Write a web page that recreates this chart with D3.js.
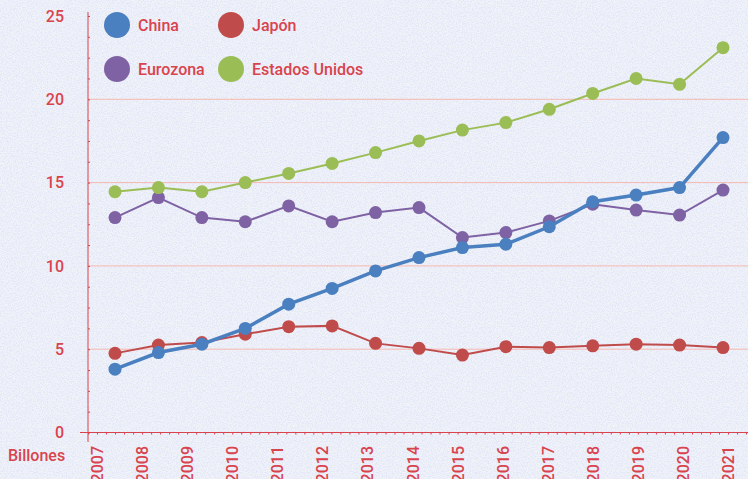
<!DOCTYPE html>
<html>
<head>
<meta charset="utf-8">
<script src="https://cdn.jsdelivr.net/npm/d3@7"></script>
<style>
  body { margin: 0; background: #e9ecf5; }
  svg { display: block; font-family: Roboto, "DejaVu Sans", sans-serif; }
</style>
</head>
<body>
<div id="chart"></div>
<script>
"use strict";

// data (billones)
const years = [2007, 2008, 2009, 2010, 2011, 2012, 2013, 2014, 2015, 2016, 2017, 2018, 2019, 2020, 2021];
const china = [3.8, 4.8, 5.3, 6.25, 7.7, 8.65, 9.7, 10.5, 11.1, 11.3, 12.35, 13.85, 14.25, 14.7, 17.7];
const japon = [4.75, 5.25, 5.4, 5.9, 6.35, 6.4, 5.35, 5.05, 4.65, 5.15, 5.1, 5.2, 5.3, 5.25, 5.1];
const eurozona = [12.9, 14.1, 12.9, 12.65, 13.6, 12.65, 13.2, 13.5, 11.7, 12.0, 12.7, 13.7, 13.35, 13.05, 14.55];
const eeuu = [14.45, 14.7, 14.45, 15.0, 15.55, 16.15, 16.8, 17.5, 18.15, 18.6, 19.4, 20.35, 21.25, 20.9, 23.1];
const yTicks = [0, 5, 10, 15, 20, 25];

const msm = {
    width: 748,
    height: 479,
    axisX: 88,
    axisY: 432.5,
    top: 16,
    right: 748
}
const red = "#d9434d";

const series = [
    { name: "China", values: china, color: "#4a7fc0", width: 3.5 },
    { name: "Japón", values: japon, color: "#c04b4b", width: 2 },
    { name: "Eurozona", values: eurozona, color: "#7f62a3", width: 2 },
    { name: "Estados Unidos", values: eeuu, color: "#9bbd55", width: 2 }
];

let svg = d3.select("#chart").append("svg")
    .attr("width", msm.width)
    .attr("height", msm.height);

// speckled paper background
let defs = svg.append("defs");
let noise = defs.append("filter").attr("id", "noise")
    .attr("x", 0).attr("y", 0).attr("width", "100%").attr("height", "100%");
noise.append("feTurbulence")
    .attr("type", "fractalNoise")
    .attr("baseFrequency", 0.8)
    .attr("numOctaves", 3)
    .attr("seed", 7);
noise.append("feColorMatrix")
    .attr("values", "0 0 0 0 0.76  0 0 0 0 0.80  0 0 0 0 0.93  3.2 0 0 0 -1.25");

svg.append("rect").attr("width", msm.width).attr("height", msm.height).attr("fill", "#f1f3f9");
svg.append("rect").attr("width", msm.width).attr("height", msm.height)
    .attr("filter", "url(#noise)");

// scales
let y = d3.scaleLinear().domain([0, 25]).range([msm.axisY, msm.top]);
let xPts = d3.scalePoint().domain(years).range([115, 723]);
let xAxisScale = d3.scaleLinear().domain([2007, 2021]).range([msm.axisX, 719]);

// grid lines
svg.append("g").selectAll("line")
    .data(yTicks.filter(d => d > 0 && d < 25))
    .enter().append("line")
    .attr("x1", msm.axisX).attr("x2", msm.right)
    .attr("y1", d => y(d)).attr("y2", d => y(d))
    .attr("stroke", "#f5b8b0").attr("stroke-width", 1);

// y axis: minor ticks + line
let yMinor = d3.axisRight(y).tickValues(d3.range(0, 25.01, 1.25)).tickSize(2).tickFormat("");
let gy = svg.append("g").attr("transform", "translate(" + msm.axisX + ",0)").call(yMinor);
gy.select(".domain").remove();
gy.selectAll("line").attr("stroke", red);
svg.append("line")
    .attr("x1", msm.axisX).attr("x2", msm.axisX)
    .attr("y1", 12).attr("y2", 442)
    .attr("stroke", red).attr("stroke-width", 1);

let yLabels = d3.axisLeft(y).tickValues(yTicks).tickSize(0).tickPadding(24);
let gyl = svg.append("g").attr("transform", "translate(" + msm.axisX + ",0)").call(yLabels);
gyl.select(".domain").remove();
gyl.selectAll("text")
    .attr("fill", red)
    .style("font-size", "16px")
    .style("font-weight", 500)
    .style("font-family", "Roboto, sans-serif");

svg.append("text")
    .attr("x", 8).attr("y", 461)
    .attr("fill", red)
    .style("font-size", "16px")
    .style("font-weight", 500)
    .text("Billones");

// x axis: minor ticks + line + rotated year labels
let xMinor = d3.axisBottom(xAxisScale).tickValues(d3.range(2007, 2022.6, 0.2)).tickSize(2).tickFormat("");
let gx = svg.append("g").attr("transform", "translate(0," + msm.axisY + ")").call(xMinor);
gx.select(".domain").remove();
gx.selectAll("line").attr("stroke", red);
svg.append("line")
    .attr("x1", 80).attr("x2", msm.right)
    .attr("y1", msm.axisY).attr("y2", msm.axisY)
    .attr("stroke", red).attr("stroke-width", 1);

svg.append("g").selectAll("text")
    .data(years)
    .enter().append("text")
    .attr("transform", d => "translate(" + (xAxisScale(d) + 15) + ",446) rotate(-90)")
    .attr("text-anchor", "end")
    .attr("fill", red)
    .style("font-size", "16px")
    .style("font-weight", 500)
    .text(d => d);

// lines and points
let line = d3.line()
    .x((d, i) => xPts(years[i]))
    .y(d => y(d));

// draw order: eurozona, eeuu, japon, china on top
let order = [series[2], series[3], series[1], series[0]];
order.forEach(s => {
    svg.append("path")
        .datum(s.values)
        .attr("d", line)
        .attr("fill", "none")
        .attr("stroke", s.color)
        .attr("stroke-width", s.width);
    svg.append("g").selectAll("circle")
        .data(s.values)
        .enter().append("circle")
        .attr("cx", (d, i) => xPts(years[i]))
        .attr("cy", d => y(d))
        .attr("r", 6.5)
        .attr("fill", s.color);
});

// legend
let legendPos = [[117, 25], [231, 25], [117, 69], [231, 69]];
let legend = svg.append("g").selectAll("g")
    .data(series)
    .enter().append("g")
    .attr("transform", (d, i) => "translate(" + legendPos[i][0] + "," + legendPos[i][1] + ")");
legend.append("circle").attr("r", 13).attr("fill", d => d.color);
legend.append("text")
    .attr("x", 21).attr("y", 6)
    .attr("fill", red)
    .style("font-size", "16px")
    .style("font-weight", 500)
    .text(d => d.name);
</script>
</body>
</html>
